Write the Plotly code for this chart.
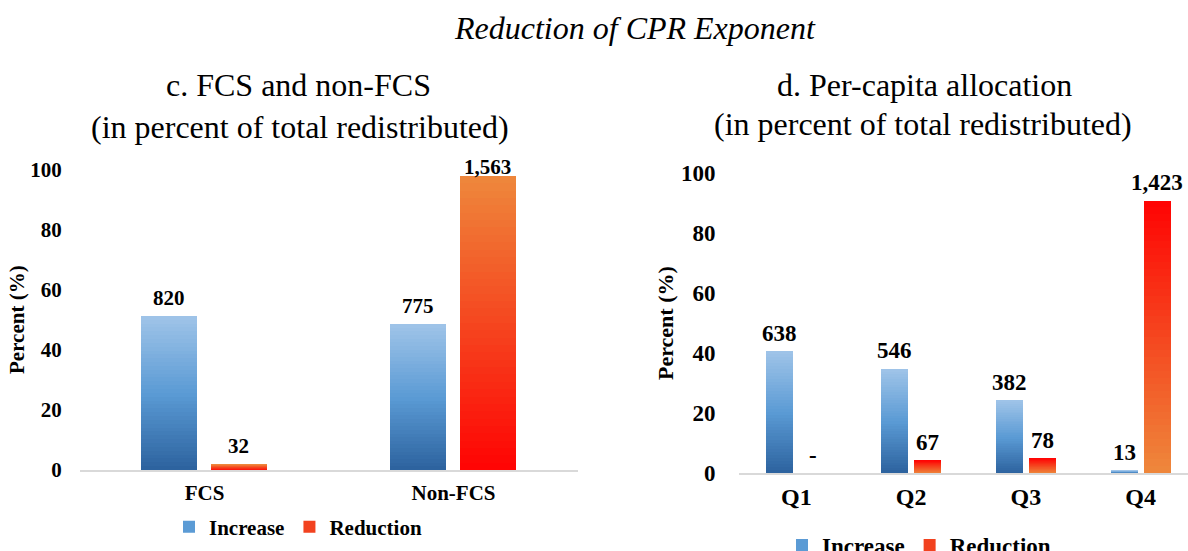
import plotly.graph_objects as go

# ---------------- data ----------------
left_categories = ["FCS", "Non-FCS"]
left_increase = [51.4, 48.6]
left_reduction = [2.0, 98.0]
left_increase_labels = ["820", "775"]
left_reduction_labels = ["32", "1,563"]

right_categories = ["Q1", "Q2", "Q3", "Q4"]
right_increase = [40.6, 34.7, 24.3, 0.9]
right_reduction = [0.0, 4.3, 5.0, 90.8]
right_increase_labels = ["638", "546", "382", "13"]
right_reduction_labels = ["-", "67", "78", "1,423"]

y_ticks = [0, 20, 40, 60, 80, 100]
series_names = ["Increase", "Reduction"]

# ---------------- styling helpers ----------------
W, H = 1188, 551
FONT = "Times New Roman, Liberation Serif, Tinos, DejaVu Serif, serif"


def px_x(x):
    return x / W


def px_y(y):
    return 1 - y / H


def hex_rgb(h):
    h = h.lstrip("#")
    return tuple(int(h[i:i + 2], 16) for i in (0, 2, 4))


def lerp_color(stops, t):
    for (t0, c0), (t1, c1) in zip(stops[:-1], stops[1:]):
        if t0 <= t <= t1:
            f = 0 if t1 == t0 else (t - t0) / (t1 - t0)
            a, b = hex_rgb(c0), hex_rgb(c1)
            r = [round(a[i] + (b[i] - a[i]) * f) for i in range(3)]
            return "rgb(%d,%d,%d)" % tuple(r)
    return stops[-1][1]


BLUE_STOPS = [(0.0, "#2C629E"), (0.5, "#5B9BD5"), (1.0, "#A0C4E8")]
RED_UP_STOPS = [(0.0, "#FF0303"), (0.5, "#F5461F"), (1.0, "#EE883C")]   # red bottom, orange top
RED_DOWN_STOPS = [(0.0, "#EE883C"), (0.5, "#F5461F"), (1.0, "#FF0303")]  # orange bottom, red top

N_SEG = 40

fig = go.Figure()


def add_series(values, cats, xaxis, yaxis, offset, width, stops, legend_color,
               name, legend, show_legend):
    # base bar (also carries legend entry)
    fig.add_trace(go.Bar(
        x=cats, y=values, name=name, marker=dict(color=legend_color, line=dict(width=0)),
        offset=offset, width=width, xaxis=xaxis, yaxis=yaxis,
        showlegend=show_legend, legend=legend, legendgroup=legend + name,
        hoverinfo="skip"))
    # gradient overlay
    for k in range(N_SEG):
        t = (k + 0.5) / N_SEG
        fig.add_trace(go.Bar(
            x=cats, y=[v / N_SEG for v in values], base=[v * k / N_SEG for v in values],
            marker=dict(color=lerp_color(stops, t), line=dict(width=0)),
            offset=offset, width=width, xaxis=xaxis, yaxis=yaxis,
            showlegend=False, legendgroup=legend + name, hoverinfo="skip"))


# left panel
LW, L_INC_OFF, L_RED_OFF = 0.225, -0.255, 0.026
add_series(left_increase, left_categories, "x", "y", L_INC_OFF, LW, BLUE_STOPS,
           "#5B9BD5", series_names[0], "legend", True)
add_series(left_reduction, left_categories, "x", "y", L_RED_OFF, LW, RED_UP_STOPS,
           "#F2421F", series_names[1], "legend", True)

# right panel
RW, R_INC_OFF, R_RED_OFF = 0.235, -0.261, 0.026
add_series(right_increase, right_categories, "x2", "y2", R_INC_OFF, RW, BLUE_STOPS,
           "#5B9BD5", series_names[0], "legend2", True)
add_series(right_reduction, right_categories, "x2", "y2", R_RED_OFF, RW, RED_DOWN_STOPS,
           "#F2421F", series_names[1], "legend2", True)

annotations = []


def add_labels(values, labels, xref, yref, offset, width, size):
    for i, (v, lab) in enumerate(zip(values, labels)):
        shift = 18 if v < 95 else 9
        annotations.append(dict(
            x=i + offset + width / 2, y=v, xref=xref, yref=yref, text="<b>%s</b>" % lab,
            showarrow=False, yanchor="middle", yshift=shift,
            font=dict(family=FONT, size=size, color="#000000")))


add_labels(left_increase, left_increase_labels, "x", "y", L_INC_OFF, LW, 21)
add_labels(left_reduction, left_reduction_labels, "x", "y", L_RED_OFF, LW, 21)
add_labels(right_increase, right_increase_labels, "x2", "y2", R_INC_OFF, RW, 23)
add_labels(right_reduction, right_reduction_labels, "x2", "y2", R_RED_OFF, RW, 23)

# titles
annotations += [
    dict(text="<i>Reduction of CPR Exponent</i>", x=px_x(635), y=px_y(28),
         xref="paper", yref="paper", showarrow=False, xanchor="center", yanchor="middle",
         font=dict(family=FONT, size=32, color="#000000")),
    dict(text="c. FCS and non-FCS", x=px_x(298), y=px_y(85),
         xref="paper", yref="paper", showarrow=False, xanchor="center", yanchor="middle",
         font=dict(family=FONT, size=32, color="#000000")),
    dict(text="(in percent of total redistributed)", x=px_x(300), y=px_y(127),
         xref="paper", yref="paper", showarrow=False, xanchor="center", yanchor="middle",
         font=dict(family=FONT, size=32, color="#000000")),
    dict(text="d. Per-capita allocation", x=px_x(924), y=px_y(85),
         xref="paper", yref="paper", showarrow=False, xanchor="center", yanchor="middle",
         font=dict(family=FONT, size=32, color="#000000")),
    dict(text="(in percent of total redistributed)", x=px_x(923), y=px_y(124),
         xref="paper", yref="paper", showarrow=False, xanchor="center", yanchor="middle",
         font=dict(family=FONT, size=32, color="#000000")),
    dict(text="<b>Percent (%)</b>", x=px_x(17), y=px_y(320), textangle=-90,
         xref="paper", yref="paper", showarrow=False, xanchor="center", yanchor="middle",
         font=dict(family=FONT, size=21, color="#000000")),
    dict(text="<b>Percent (%)</b>", x=px_x(665), y=px_y(323), textangle=-90,
         xref="paper", yref="paper", showarrow=False, xanchor="center", yanchor="middle",
         font=dict(family=FONT, size=22, color="#000000")),
]

axis_line = dict(showline=True, linecolor="#D9D9D9", linewidth=2, showgrid=False,
                 zeroline=False, ticks="outside", tickcolor="rgba(0,0,0,0)")
yax = dict(showline=False, showgrid=False, zeroline=False, range=[0, 100],
           tickvals=y_ticks, ticks="outside", tickcolor="rgba(0,0,0,0)")

fig.update_layout(
    width=W, height=H,
    margin=dict(l=0, r=0, t=0, b=0, autoexpand=False),
    paper_bgcolor="white", plot_bgcolor="white",
    barmode="overlay", bargap=0,
    font=dict(family=FONT, color="#000000"),
    xaxis=dict(domain=[px_x(80), px_x(578)], range=[-0.5, 1.5], anchor="y",
               ticklen=3, tickfont=dict(family=FONT, size=21, weight="bold"),
               **axis_line),
    yaxis=dict(domain=[px_y(470), px_y(170)], anchor="x", ticklen=13,
               tickfont=dict(family=FONT, size=21, weight="bold"), **yax),
    xaxis2=dict(domain=[px_x(739), 1.0], range=[-0.5, 3.413], anchor="y2",
                ticklen=1, tickfont=dict(family=FONT, size=24, weight="bold"),
                **axis_line),
    yaxis2=dict(domain=[px_y(473), px_y(173)], anchor="x2", ticklen=18,
                tickfont=dict(family=FONT, size=23, weight="bold"), **yax),
    legend=dict(orientation="h", x=px_x(169), y=px_y(527), xanchor="left", yanchor="middle",
                font=dict(family=FONT, size=21, weight="bold"), bgcolor="rgba(0,0,0,0)",
                itemclick=False, itemdoubleclick=False, traceorder="normal"),
    legend2=dict(orientation="h", x=px_x(782), y=px_y(545), xanchor="left", yanchor="middle",
                 font=dict(family=FONT, size=23, weight="bold"), bgcolor="rgba(0,0,0,0)",
                 itemclick=False, itemdoubleclick=False, traceorder="normal"),
    annotations=annotations,
    showlegend=True,
)

fig.write_html(
    "out.html",
    config={"displayModeBar": False},
    post_script="document.body.style.margin='0px';document.body.style.overflow='hidden';",
)
